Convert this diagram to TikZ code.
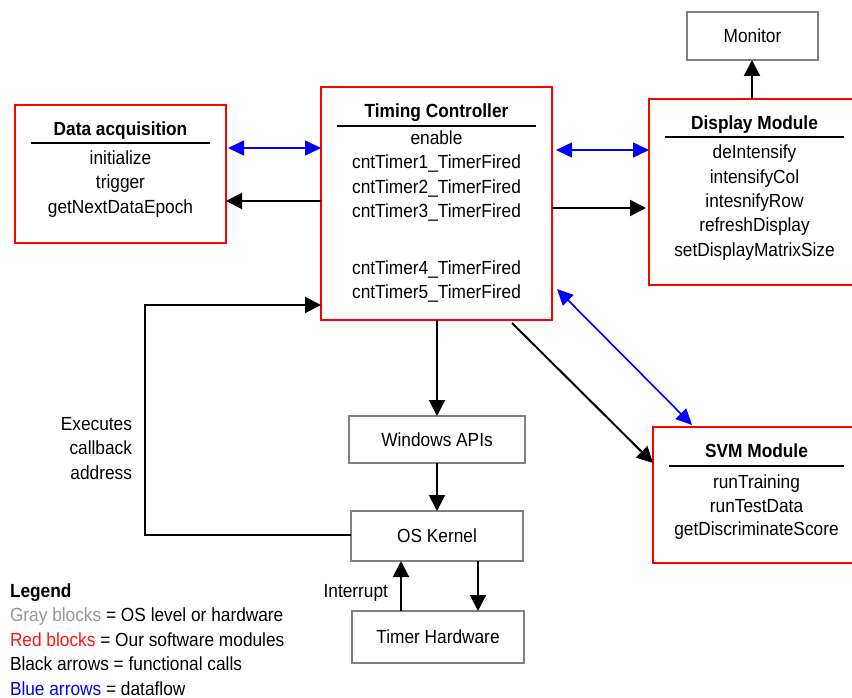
\documentclass[tikz,border=0pt]{standalone}
\usepackage{fontspec}
\setmainfont{Liberation Sans}[FakeStretch=0.91]
\usetikzlibrary{arrows.meta,calc}
\definecolor{boxred}{RGB}{255,0,0}
\definecolor{boxgray}{RGB}{128,128,128}
\definecolor{legendgray}{RGB}{150,150,150}
\definecolor{legendred}{RGB}{255,20,20}
\definecolor{flowblue}{RGB}{0,0,255}
\begin{document}
\begin{tikzpicture}[x=1pt,y=-1pt,
  every node/.style={font=\fontsize{19}{24}\selectfont, inner sep=0pt, outer sep=0pt},
  redbox/.style={draw=boxred, line width=2pt, anchor=north west},
  graybox/.style={draw=boxgray, line width=2pt, anchor=north west},
  call/.style={line width=2pt, -{Triangle[length=16pt,width=16pt]}},
  flow/.style={draw=flowblue, line width=1.6pt,
    {Triangle[length=16pt,width=15pt]}-{Triangle[length=16pt,width=15pt]}},
  headtext/.style={font=\fontsize{19}{24}\selectfont\bfseries, anchor=base},
  itemtext/.style={anchor=base},
  titlerule/.style={line width=2pt},
  legendtext/.style={anchor=base west}]
\useasboundingbox (0,0) rectangle (852,698);
\clip (0,0) rectangle (852,698);

% ---- software modules (red) ----
\node[redbox, minimum width=211pt, minimum height=138pt] (da) at (15,105) {};
\node[redbox, minimum width=231pt, minimum height=233pt] (tc) at (321,87) {};
\node[redbox, minimum width=211pt, minimum height=186pt] (dm) at (649,99) {};
\node[redbox, minimum width=207pt, minimum height=136pt] (svm) at (653,427) {};

% ---- OS level and hardware (gray) ----
\node[graybox, minimum width=131pt, minimum height=48pt] (mon) at (687,12) {Monitor};
\node[graybox, minimum width=176pt, minimum height=47pt] (win) at (349,416) {Windows APIs};
\node[graybox, minimum width=172pt, minimum height=50pt] (osk) at (351,511) {OS Kernel};
\node[graybox, minimum width=172pt, minimum height=52pt] (thw) at (352,611) {Timer Hardware};

% ---- Data acquisition contents ----
\path (da.north) ++(0,31) node[headtext] (dat) {Data acquisition};
\draw[titlerule] ($(da.north west)+(16,38)$) -- ($(da.north east)+(-16,38)$);
\path (da.north) ++(0,60) node[itemtext] (da1) {initialize}
      (da.north) ++(0,84) node[itemtext] (da2) {trigger}
      (da.north) ++(0,108) node[itemtext] (da3) {getNextDataEpoch};

% ---- Timing Controller contents ----
\path (tc.north) ++(0,31) node[headtext] (tct) {Timing Controller};
\draw[titlerule] ($(tc.north west)+(16,39)$) -- ($(tc.north east)+(-16,39)$);
\path (tc.north) ++(0,58) node[itemtext] (tc0) {enable}
      (tc.north) ++(0,82) node[itemtext] (tc1) {cntTimer1\_TimerFired}
      (tc.north) ++(0,106.5) node[itemtext] (tc2) {cntTimer2\_TimerFired}
      (tc.north) ++(0,131) node[itemtext] (tc3) {cntTimer3\_TimerFired}
      (tc.north) ++(0,187) node[itemtext] (tc4) {cntTimer4\_TimerFired}
      (tc.north) ++(0,211) node[itemtext] (tc5) {cntTimer5\_TimerFired};

% ---- Display Module contents ----
\path (dm.north) ++(0,31) node[headtext] (dmt) {Display Module};
\draw[titlerule] ($(dm.north west)+(16,38)$) -- ($(dm.north east)+(-16,38)$);
\path (dm.north) ++(0,60) node[itemtext] (dm1) {deIntensify}
      (dm.north) ++(0,84.3) node[itemtext] (dm2) {intensifyCol}
      (dm.north) ++(0,108.6) node[itemtext] (dm3) {intesnifyRow}
      (dm.north) ++(0,133) node[itemtext] (dm4) {refreshDisplay}
      (dm.north) ++(0,157.2) node[itemtext] (dm5) {setDisplayMatrixSize};

% ---- SVM Module contents ----
\path (svm.north) ++(0,30) node[headtext] (svmt) {SVM Module};
\draw[titlerule] ($(svm.north west)+(16,39)$) -- ($(svm.north east)+(-16,39)$);
\path (svm.north) ++(0,61) node[itemtext] (svm1) {runTraining}
      (svm.north) ++(0,85) node[itemtext] (svm2) {runTestData}
      (svm.north) ++(0,108.5) node[itemtext] (svm3) {getDiscriminateScore};

% ---- dataflow (blue) ----
\draw[flow] ($(da.east |- 0,148)+(2,0)$) -- (tc.west |- 0,148);
\draw[flow] ($(tc.east |- 0,150)+(4,0)$) -- (dm.west |- 0,150);
\draw[flow] ($(tc.east |- 0,289)+(5,0)$) -- ($(svm.north west)+(39,-2)$);

% ---- functional calls (black) ----
\draw[call] (tc.west |- 0,201) -- (da.east |- 0,201);
\draw[call] (tc.east |- 0,208) -- ($(dm.west |- 0,208)+(-3,0)$);
\draw[call] (dm.north -| 752,0) -- (mon.south -| 752,0);
\draw[call] ($(tc.south east)+(-40,3)$) -- (svm.west |- 0,463);
\draw[call] (tc.south -| win.north) -- (win.north);
\draw[call] (win.south) -- (osk.north -| win.south);
\draw[call] (osk.west |- 0,535) -- (145,535) coordinate (cbl) -- (145,305) coordinate (cbu)
            -- (tc.west |- 0,305);
\draw[call] (thw.north -| 401,0) -- (osk.south -| 401,0);
\draw[call] (osk.south -| 478,0) -- (thw.north -| 478,0);

% ---- connector labels ----
\node[anchor=base east] (cb1) at (132,430) {Executes};
\node[anchor=base east] (cb2) at (132,454.5) {callback};
\node[anchor=base east] (cb3) at (132,479) {address};
\node[anchor=base east] (irq) at (388,597) {Interrupt};

% ---- legend ----
\node[legendtext, font=\fontsize{19}{24}\selectfont\bfseries] (lg0) at (10,597) {Legend};
\node[legendtext] (lg1) at (10,621.5) {\textcolor{legendgray}{Gray blocks} = OS level or hardware};
\node[legendtext] (lg2) at (10,646) {\textcolor{legendred}{Red blocks} = Our software modules};
\node[legendtext] (lg3) at (10,670.5) {Black arrows = functional calls};
\node[legendtext] (lg4) at (10,695) {\textcolor{flowblue}{Blue arrows} = dataflow};
\end{tikzpicture}
\end{document}
